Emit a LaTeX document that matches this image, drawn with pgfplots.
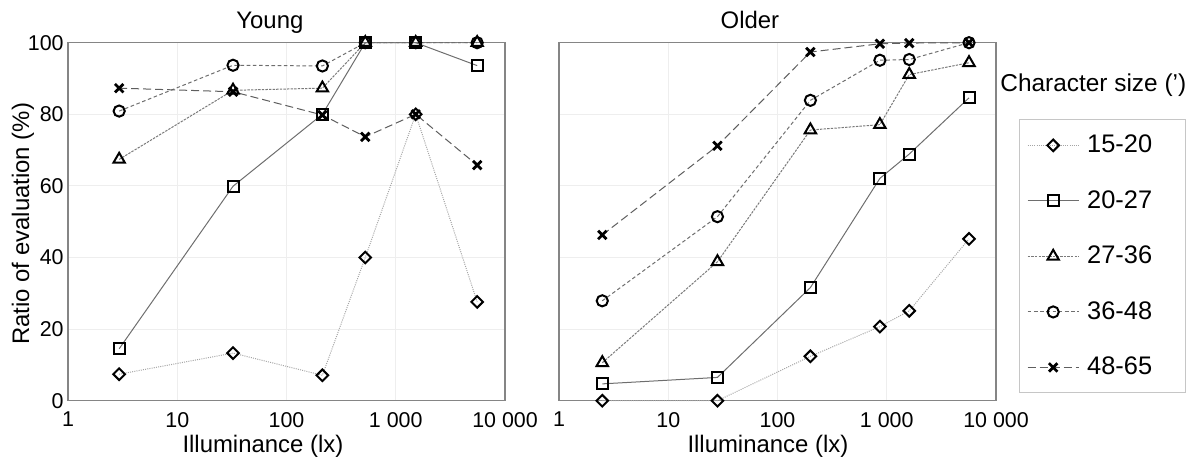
\documentclass[border=0pt]{standalone}
\usepackage{fontspec}
\setmainfont{Liberation Sans}
\usepackage{pgfplots}
\pgfplotsset{compat=1.18}

\definecolor{framec}{HTML}{858585}
\definecolor{gridc}{HTML}{EEEEEE}
\definecolor{c1}{HTML}{A5A5A5}
\definecolor{c2}{HTML}{6E6E6E}
\definecolor{c3}{HTML}{7A7A7A}
\definecolor{c4}{HTML}{6E6E6E}
\definecolor{c5}{HTML}{5E5E5E}

\tikzset{
  serA/.style={draw=c1, line width=0.5bp, dash pattern=on 0.5bp off 0.6bp,
    mark=square, mark size=2.05bp, mark options={solid, draw=black, line width=1bp, rotate=45}},
  serB/.style={draw=c2, line width=0.5bp, solid,
    mark=square, mark size=2.75bp, mark options={solid, draw=black, line width=1bp}},
  serC/.style={draw=c3, line width=0.5bp, dash pattern=on 1.2bp off 0.6bp,
    mark=triangle, mark size=3.3bp, mark options={solid, draw=black, line width=1bp}},
  serD/.style={draw=c4, line width=0.5bp, dash pattern=on 1.8bp off 1.3bp,
    mark=o, mark size=2.8bp, mark options={solid, draw=black, line width=1bp}},
  serE/.style={draw=c5, line width=0.5bp, dash pattern=on 4bp off 2bp,
    mark=x, mark size=3bp, mark options={solid, draw=black, line width=1.4bp}},
}

\begin{document}
\begin{tikzpicture}
\useasboundingbox (0,0) rectangle (600bp,230.5bp);

% ---------------- Young ----------------
\begin{axis}[
  xmode=log, xmin=1, xmax=10000, ymin=0, ymax=100,
  width=218.5bp, height=179bp, scale only axis,
  axis line style={draw=framec, line width=0.6bp},
  xtick={1,10,100,1000,10000},
  xticklabels={1,10,100,1 000,10 000},
  ytick={0,20,40,60,80,100},
  minor xtick={},
  major tick length=0pt, minor tick length=0pt,
  grid=major, grid style={draw=gridc, line width=0.5bp},
  tick label style={font=\fontsize{10.75}{12}\selectfont},
  xticklabel style={inner sep=0pt, anchor=north, yshift=-5.5bp},
  yticklabel style={inner sep=0pt, anchor=east, xshift=-2bp},
  /pgf/number format/assume math mode=true,
  label style={font=\fontsize{12}{14}\selectfont},
  clip=false,
  at={(34bp,30.15bp)}, anchor=south west,
  every axis title shift=0pt,
  title={Young},
  title style={font=\fontsize{12}{14}\selectfont, at={(axis description cs:0.462,1)}, anchor=base, inner sep=0pt, yshift=7.2bp},
  xlabel={Illuminance (lx)},
  xlabel style={at={(axis description cs:0.446,0)}, anchor=base, yshift=-26bp, inner sep=0pt},
  ylabel={Ratio of evaluation (\%)},
  ylabel style={at={(axis description cs:-0.103,0.494)}, anchor=center, inner sep=0pt},
]
\addplot[serA] coordinates {(2.94,7.4) (32.4,13.3) (213,7.1) (526,40.0) (1522,80) (5560,27.6)};
\addplot[serB] coordinates {(2.94,14.5) (32.4,59.9) (213,80) (526,100) (1522,100) (5560,93.6)};
\addplot[serC] coordinates {(2.94,67.4) (32.4,86.7) (213,87.3) (526,100) (1522,100) (5560,100)};
\addplot[serD] coordinates {(2.94,80.9) (32.4,93.7) (213,93.5) (526,100) (1522,100) (5560,100)};
\addplot[serE] coordinates {(2.94,87.3) (32.4,86.3) (213,79.8) (526,73.7) (1522,80) (5560,65.8)};
\end{axis}

% ---------------- Older ----------------
\begin{axis}[
  xmode=log, xmin=1, xmax=10000, ymin=0, ymax=100,
  width=218.5bp, height=179bp, scale only axis,
  axis line style={draw=framec, line width=0.6bp},
  xtick={1,10,100,1000,10000},
  xticklabels={1,10,100,1 000,10 000},
  ytick={0,20,40,60,80,100},
  yticklabels={},
  minor xtick={},
  major tick length=0pt, minor tick length=0pt,
  grid=major, grid style={draw=gridc, line width=0.5bp},
  tick label style={font=\fontsize{10.75}{12}\selectfont},
  xticklabel style={inner sep=0pt, anchor=north, yshift=-5.5bp},
  /pgf/number format/assume math mode=true,
  label style={font=\fontsize{12}{14}\selectfont},
  clip=false,
  at={(279.5bp,30.15bp)}, anchor=south west,
  every axis title shift=0pt,
  title={Older},
  title style={font=\fontsize{12}{14}\selectfont, at={(axis description cs:0.437,1)}, anchor=base, inner sep=0pt, yshift=7.2bp},
  xlabel={Illuminance (lx)},
  xlabel style={at={(axis description cs:0.478,0)}, anchor=base, yshift=-26bp, inner sep=0pt},
  legend image code/.code={
    \draw[mark repeat=2, mark phase=2] plot coordinates {(0bp,0bp) (12.75bp,0bp) (25.5bp,0bp)};
  },
  legend style={
    at={(axis description cs:1.0526,0.7855)}, anchor=north west,
    draw=gray!45, line width=0.5bp, fill=white,
    inner xsep=3.85bp, inner ysep=7.5bp,
    nodes={inner sep=0pt},
    row sep=17.4bp, column sep=4bp,
    font=\fontsize{12.75}{15}\selectfont,
    cells={anchor=west},
  },
]
\addplot[serA] coordinates {(2.49,0) (28.2,0) (200,12.4) (865,20.7) (1607,25.1) (5660,45.2)};
\addplot[serB] coordinates {(2.49,4.7) (28.2,6.5) (200,31.6) (865,62.1) (1607,68.9) (5660,84.6)};
\addplot[serC] coordinates {(2.49,10.6) (28.2,38.8) (200,75.6) (865,77.1) (1607,91.1) (5660,94.4)};
\addplot[serD] coordinates {(2.49,27.9) (28.2,51.4) (200,83.9) (865,95.1) (1607,95.3) (5660,100)};
\addplot[serE] coordinates {(2.49,46.3) (28.2,71.2) (200,97.4) (865,99.7) (1607,99.9) (5660,100)};
\legend{15-20\hspace*{13bp},20-27\hspace*{13bp},27-36\hspace*{13bp},36-48\hspace*{13bp},48-65\hspace*{13bp}}
\end{axis}

\node[anchor=base west, inner sep=0pt, font=\fontsize{12.25}{15}\selectfont] at (500bp,184.65bp) {Character size (')};
\end{tikzpicture}
\end{document}
